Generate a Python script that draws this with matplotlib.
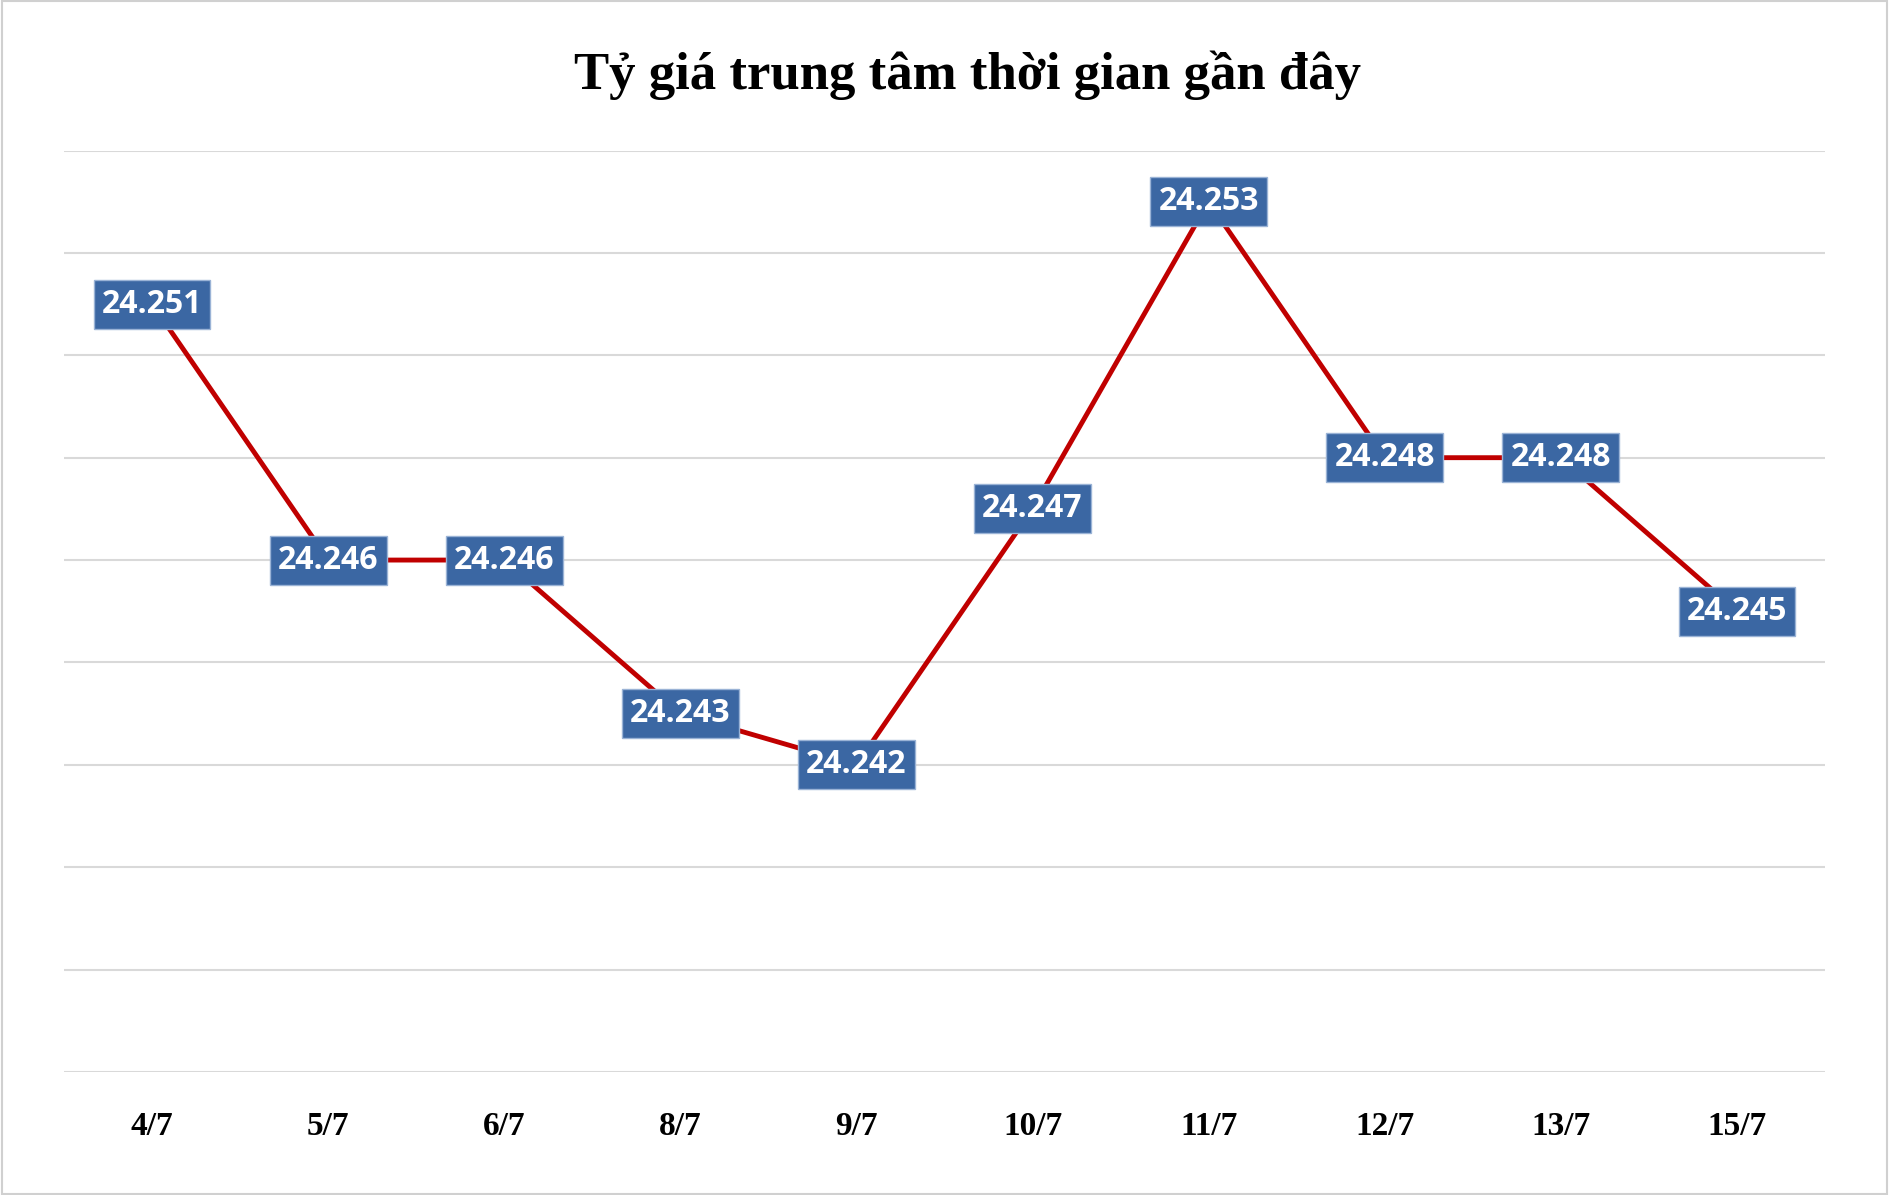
import matplotlib
matplotlib.use('Agg')
import matplotlib.pyplot as plt
from matplotlib.patches import Rectangle

dates = ['4/7', '5/7', '6/7', '8/7', '9/7', '10/7', '11/7', '12/7', '13/7', '15/7']
rates = [24.251, 24.246, 24.246, 24.243, 24.242, 24.247, 24.253, 24.248, 24.248, 24.245]

fig = plt.figure(figsize=(18.89, 11.95), dpi=100)
fig.patches.append(Rectangle((0.001, 0.001), 0.998, 0.998, transform=fig.transFigure,
                             fill=False, edgecolor='#d0d0d0', linewidth=1.5))
ax = fig.add_axes([0.034, 0.103, 0.932, 0.771])

x = list(range(len(dates)))
ax.plot(x, rates, color='#c00000', linewidth=3.5, zorder=2)

for xi, v in zip(x, rates):
    label = f'{v:.3f}'
    ax.text(xi, v, label, ha='center', va='center', color='white', fontsize=23,
            fontweight='bold', family='Open Sans', zorder=4,
            bbox=dict(boxstyle='square,pad=0.25', facecolor='#3b67a3',
                      edgecolor='#9ab3d6', linewidth=1))

ax.set_xlim(-0.5, len(dates) - 0.5)
ax.set_ylim(24.236, 24.254)
ax.set_yticks([24.236 + 0.002 * i for i in range(10)])
ax.yaxis.grid(True, color='#d9d9d9', linewidth=1.5)
ax.set_yticklabels([])
ax.tick_params(axis='y', length=0)
ax.tick_params(axis='x', length=0, pad=28)
ax.set_xticks(x)
ax.set_xticklabels(dates, fontsize=24, fontweight='bold', family='Liberation Serif')
for s in ax.spines.values():
    s.set_visible(False)

fig.text(0.512, 0.937, 'Tỷ giá trung tâm thời gian gần đây', ha='center', va='center',
         fontsize=38, fontweight='bold', family='Liberation Serif')

fig.savefig('out.png', dpi=100)
